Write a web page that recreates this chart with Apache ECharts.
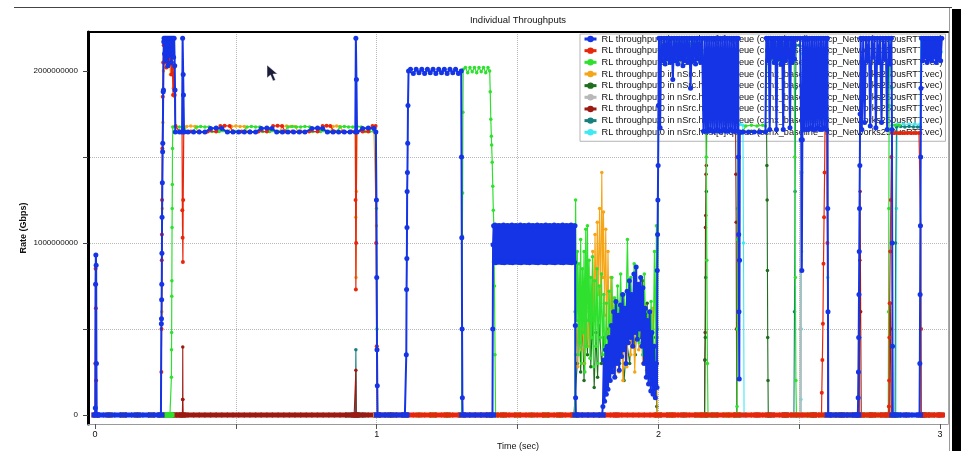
<!DOCTYPE html>
<html>
<head>
<meta charset="utf-8">
<title>Individual Throughputs</title>
<script src="https://cdn.jsdelivr.net/npm/echarts@6/dist/echarts.min.js"></script>
<style>
html, body { margin: 0; padding: 0; background: #fff; }
#chart { width: 961px; height: 451px; }
</style>
</head>
<body>
<div id="chart"></div>
<script>
// ---- Flow names (legend order) ----
const flowNames = [
  'RL throughput0 in nSrc.host[0].queue (ccnx_baseline_Tcp_Networks250usRTT.vec)',
  'RL throughput0 in nSrc.host[1].queue (ccnx_baseline_Tcp_Networks250usRTT.vec)',
  'RL throughput0 in nSrc.host[2].queue (ccnx_baseline_Tcp_Networks250usRTT.vec)',
  'RL throughput0 in nSrc.host[3].queue (ccnx_baseline_Tcp_Networks250usRTT.vec)',
  'RL throughput0 in nSrc.host[4].queue (ccnx_baseline_Tcp_Networks250usRTT.vec)',
  'RL throughput0 in nSrc.host[5].queue (ccnx_baseline_Tcp_Networks250usRTT.vec)',
  'RL throughput0 in nSrc.host[6].queue (ccnx_baseline_Tcp_Networks250usRTT.vec)',
  'RL throughput0 in nSrc.host[7].queue (ccnx_baseline_Tcp_Networks250usRTT.vec)',
  'RL throughput0 in nSrc.host[8].queue (ccnx_baseline_Tcp_Networks250usRTT.vec)'
];
const flowColors = ['#1434e6', '#e8260c', '#2fe02f', '#f5a516', '#1e6e1e', '#b8b8b8', '#9c1a12', '#17807f', '#3fe8f2'];

// ---- Axis tick values ----
const timeTicks = [0, 0.5, 1, 1.5, 2, 2.5, 3];
const timeLabels = [0, 1, 2, 3];
const rateTicks = [0, 0.5e9, 1e9, 1.5e9, 2e9];
const rateLabels = [0, 1e9, 2e9];

// ---- Samples: [time (s), rate (bit/s)] ----
// host[0]
const h0Start = [
  [0.000, 0], [0.001, 0.04e9], [0.002, 0.76e9], [0.003, 0.93e9], [0.004, 0.87e9], [0.005, 0.30e9], [0.006, 0],
  [0.02, 0], [0.04, 0], [0.06, 0], [0.08, 0], [0.10, 0], [0.12, 0], [0.14, 0], [0.16, 0], [0.18, 0], [0.20, 0], [0.22, 0], [0.234, 0],
  [0.2355, 0.53e9], [0.236, 0.56e9], [0.2365, 0.67e9], [0.237, 0.76e9], [0.2375, 0.94e9], [0.238, 1.15e9], [0.239, 1.35e9],
  [0.240, 1.53e9], [0.2405, 1.58e9], [0.242, 1.88e9], [0.243, 1.89e9], [0.244, 2.17e9], [0.245, 2.19e9],
  [0.247, 2.10e9], [0.249, 2.19e9], [0.251, 2.06e9], [0.253, 2.19e9], [0.255, 2.13e9], [0.257, 2.19e9], [0.259, 2.03e9],
  [0.261, 2.19e9], [0.263, 2.09e9], [0.265, 2.19e9], [0.267, 2.12e9], [0.269, 2.19e9], [0.271, 2.05e9], [0.273, 2.19e9],
  [0.275, 2.10e9], [0.277, 2.19e9], [0.279, 2.08e9], [0.281, 2.19e9], [0.283, 2.03e9], [0.284, 1.89e9], [0.285, 1.645e9]
];
const h0Share = [
  [0.30, 1.645e9], [0.309, 1.645e9], [0.311, 2.19e9], [0.313, 1.98e9], [0.314, 1.86e9], [0.316, 1.645e9],
  [0.33, 1.645e9], [0.35, 1.645e9], [0.37, 1.645e9], [0.39, 1.645e9], [0.41, 1.665e9], [0.43, 1.668e9], [0.45, 1.665e9],
  [0.47, 1.645e9], [0.49, 1.645e9], [0.51, 1.645e9], [0.53, 1.645e9], [0.55, 1.645e9], [0.57, 1.645e9], [0.59, 1.665e9],
  [0.61, 1.668e9], [0.628, 1.665e9], [0.645, 1.645e9], [0.665, 1.645e9], [0.685, 1.645e9], [0.705, 1.645e9], [0.725, 1.645e9],
  [0.745, 1.645e9], [0.77, 1.665e9], [0.79, 1.668e9], [0.808, 1.665e9], [0.825, 1.645e9], [0.845, 1.645e9], [0.865, 1.645e9],
  [0.885, 1.645e9], [0.905, 1.645e9], [0.924, 1.645e9], [0.926, 2.19e9], [0.928, 1.95e9], [0.930, 1.645e9], [0.95, 1.665e9],
  [0.97, 1.668e9], [0.99, 1.665e9], [0.997, 1.645e9],
  [0.999, 1.25e9], [1.000, 0.80e9], [1.001, 0.38e9], [1.002, 0.17e9], [1.003, 0],
  [1.02, 0], [1.04, 0], [1.06, 0], [1.08, 0], [1.10, 0], [1.104, 0]
];
const h0Solo = [
  [1.105, 0.35e9], [1.106, 0.73e9], [1.107, 0.91e9], [1.1075, 1.09e9], [1.108, 1.30e9], [1.109, 1.41e9], [1.110, 1.58e9],
  [1.111, 1.80e9], [1.113, 2.0e9],
  [1.12, 2.01e9], [1.13, 1.985e9], [1.14, 2.01e9], [1.15, 1.99e9], [1.16, 2.01e9], [1.17, 1.985e9], [1.18, 2.01e9],
  [1.19, 1.99e9], [1.20, 2.01e9], [1.21, 1.985e9], [1.22, 2.01e9], [1.23, 1.99e9], [1.24, 2.01e9], [1.25, 1.985e9],
  [1.26, 2.01e9], [1.27, 1.99e9], [1.28, 2.01e9], [1.29, 1.985e9], [1.30, 2.0e9],
  [1.301, 1.50e9], [1.302, 1.03e9], [1.303, 0.50e9], [1.304, 0.10e9], [1.305, 0],
  [1.32, 0], [1.34, 0], [1.36, 0], [1.38, 0], [1.40, 0], [1.411, 0], [1.412, 0.50e9], [1.413, 0.99e9]
];
const h0Band = [
  [1.4150, 1.100e9], [1.4175, 0.890e9], [1.4200, 1.105e9], [1.4225, 0.885e9], [1.4250, 1.095e9], [1.4275, 0.895e9],
  [1.4300, 1.100e9], [1.4325, 0.888e9], [1.4350, 1.102e9], [1.4375, 0.892e9], [1.4400, 1.098e9], [1.4425, 0.886e9],
  [1.4450, 1.100e9], [1.4475, 0.890e9], [1.4500, 1.105e9], [1.4525, 0.885e9], [1.4550, 1.095e9], [1.4575, 0.895e9],
  [1.4600, 1.100e9], [1.4625, 0.888e9], [1.4650, 1.102e9], [1.4675, 0.892e9], [1.4700, 1.098e9], [1.4725, 0.886e9],
  [1.4750, 1.100e9], [1.4775, 0.890e9], [1.4800, 1.105e9], [1.4825, 0.885e9], [1.4850, 1.095e9], [1.4875, 0.895e9],
  [1.4900, 1.100e9], [1.4925, 0.888e9], [1.4950, 1.102e9], [1.4975, 0.892e9], [1.5000, 1.098e9], [1.5025, 0.886e9],
  [1.5050, 1.100e9], [1.5075, 0.890e9], [1.5100, 1.105e9], [1.5125, 0.885e9], [1.5150, 1.095e9], [1.5175, 0.895e9],
  [1.5200, 1.100e9], [1.5225, 0.888e9], [1.5250, 1.102e9], [1.5275, 0.892e9], [1.5300, 1.098e9], [1.5325, 0.886e9],
  [1.5350, 1.100e9], [1.5375, 0.890e9], [1.5400, 1.105e9], [1.5425, 0.885e9], [1.5450, 1.095e9], [1.5475, 0.895e9],
  [1.5500, 1.100e9], [1.5525, 0.888e9], [1.5550, 1.102e9], [1.5575, 0.892e9], [1.5600, 1.098e9], [1.5625, 0.886e9],
  [1.5650, 1.100e9], [1.5675, 0.890e9], [1.5700, 1.105e9], [1.5725, 0.885e9], [1.5750, 1.095e9], [1.5775, 0.895e9],
  [1.5800, 1.100e9], [1.5825, 0.888e9], [1.5850, 1.102e9], [1.5875, 0.892e9], [1.5900, 1.098e9], [1.5925, 0.886e9],
  [1.5950, 1.100e9], [1.5975, 0.890e9], [1.6000, 1.105e9], [1.6025, 0.885e9], [1.6050, 1.095e9], [1.6075, 0.895e9],
  [1.6100, 1.100e9], [1.6125, 0.888e9], [1.6150, 1.102e9], [1.6175, 0.892e9], [1.6200, 1.098e9], [1.6225, 0.886e9],
  [1.6250, 1.100e9], [1.6275, 0.890e9], [1.6300, 1.105e9], [1.6325, 0.885e9], [1.6350, 1.095e9], [1.6375, 0.895e9],
  [1.6400, 1.100e9], [1.6425, 0.888e9], [1.6450, 1.102e9], [1.6475, 0.892e9], [1.6500, 1.098e9], [1.6525, 0.886e9],
  [1.6550, 1.100e9], [1.6575, 0.890e9], [1.6600, 1.105e9], [1.6625, 0.885e9], [1.6650, 1.095e9], [1.6675, 0.895e9],
  [1.6700, 1.100e9], [1.6725, 0.888e9], [1.6750, 1.102e9], [1.6775, 0.892e9], [1.6800, 1.098e9], [1.6825, 0.886e9],
  [1.6850, 1.100e9], [1.6875, 0.890e9], [1.6900, 1.105e9], [1.6925, 0.885e9], [1.6950, 1.095e9], [1.6975, 0.895e9],
  [1.7000, 1.100e9], [1.7025, 0.888e9], [1.704, 1.10e9],
  [1.705, 0.52e9], [1.706, 0.10e9], [1.707, 0],
  [1.72, 0], [1.74, 0], [1.76, 0], [1.78, 0], [1.80, 0]
];
const h0Congested = [
  [1.803, 0.05e9], [1.806, 0.32e9], [1.809, 0.08e9], [1.812, 0.38e9], [1.815, 0.12e9], [1.818, 0.40e9], [1.821, 0.15e9],
  [1.825, 0.45e9], [1.829, 0.20e9], [1.833, 0.52e9], [1.837, 0.25e9], [1.841, 0.60e9], [1.845, 0.22e9], [1.849, 0.66e9],
  [1.853, 0.30e9], [1.857, 0.58e9], [1.861, 0.26e9], [1.865, 0.64e9], [1.869, 0.34e9], [1.873, 0.70e9], [1.877, 0.38e9],
  [1.881, 0.62e9], [1.885, 0.30e9], [1.889, 0.72e9], [1.893, 0.42e9], [1.897, 0.78e9], [1.901, 0.45e9], [1.905, 0.70e9],
  [1.909, 0.40e9], [1.913, 0.82e9], [1.917, 0.48e9], [1.921, 0.86e9], [1.925, 0.44e9], [1.929, 0.76e9], [1.933, 0.50e9],
  [1.937, 0.80e9], [1.941, 0.40e9], [1.945, 0.74e9], [1.949, 0.30e9], [1.953, 0.62e9], [1.957, 0.22e9], [1.961, 0.55e9],
  [1.965, 0.18e9], [1.969, 0.60e9], [1.973, 0.14e9], [1.977, 0.48e9], [1.981, 0.12e9], [1.985, 0.40e9], [1.989, 0.10e9],
  [1.993, 0.30e9], [1.995, 0.16e9], [1.996, 0.84e9], [1.997, 1.05e9], [1.998, 1.25e9], [1.999, 1.45e9], [2.000, 1.80e9],
  [2.002, 2.19e9]
];
const h0Burst1 = [
  [2.006, 1.67e9], [2.010, 2.19e9], [2.015, 2.06e9], [2.020, 2.19e9], [2.024, 2.04e9], [2.029, 2.19e9], [2.033, 2.07e9],
  [2.038, 2.19e9], [2.042, 2.05e9], [2.047, 2.19e9], [2.051, 1.95e9], [2.056, 2.19e9], [2.060, 2.06e9], [2.065, 2.19e9],
  [2.069, 2.04e9], [2.074, 2.19e9], [2.078, 2.07e9], [2.083, 2.19e9], [2.087, 2.03e9], [2.092, 2.19e9], [2.096, 2.06e9],
  [2.101, 2.19e9], [2.105, 2.05e9], [2.110, 2.19e9], [2.114, 1.90e9], [2.119, 2.19e9], [2.123, 2.06e9], [2.128, 2.19e9],
  [2.132, 2.04e9], [2.137, 2.19e9], [2.141, 2.07e9], [2.146, 2.19e9], [2.150, 2.05e9], [2.155, 2.19e9],
  [2.160, 1.65e9], [2.164, 2.19e9], [2.168, 1.65e9], [2.172, 2.19e9], [2.176, 1.65e9], [2.180, 2.19e9], [2.184, 1.66e9],
  [2.188, 2.19e9], [2.192, 1.65e9], [2.196, 2.19e9], [2.200, 1.65e9], [2.204, 2.19e9], [2.208, 1.66e9], [2.212, 2.19e9],
  [2.216, 1.65e9], [2.220, 2.19e9], [2.224, 1.65e9], [2.228, 2.19e9], [2.232, 1.66e9], [2.236, 2.19e9], [2.240, 1.65e9],
  [2.244, 2.19e9], [2.248, 1.65e9], [2.252, 2.19e9], [2.256, 1.66e9], [2.260, 2.19e9], [2.264, 1.65e9], [2.268, 2.19e9],
  [2.272, 1.65e9], [2.276, 2.19e9], [2.280, 1.65e9], [2.283, 2.19e9],
  [2.284, 1.50e9], [2.285, 1.05e9], [2.286, 0.60e9], [2.287, 0.21e9], [2.288, 0.90e9], [2.289, 1.645e9],
  [2.30, 1.645e9], [2.32, 1.645e9], [2.34, 1.645e9], [2.36, 1.645e9], [2.38, 1.645e9]
];
const h0Burst2 = [
  [2.383, 2.19e9], [2.387, 2.06e9], [2.391, 2.19e9], [2.395, 1.66e9], [2.399, 2.19e9], [2.403, 2.08e9], [2.407, 2.19e9],
  [2.411, 2.05e9], [2.415, 2.19e9], [2.419, 1.66e9], [2.423, 2.19e9], [2.427, 2.07e9], [2.431, 2.19e9], [2.435, 2.04e9],
  [2.439, 2.19e9], [2.443, 1.66e9], [2.447, 2.19e9], [2.451, 2.06e9], [2.455, 2.19e9], [2.459, 2.08e9], [2.463, 2.19e9],
  [2.467, 1.67e9], [2.471, 2.19e9], [2.475, 2.05e9], [2.479, 2.19e9], [2.483, 2.07e9], [2.487, 2.19e9], [2.495, 2.19e9],
  [2.503, 2.19e9], [2.507, 1.60e9], [2.509, 0.84e9], [2.511, 1.60e9], [2.513, 2.19e9],
  [2.517, 1.66e9], [2.521, 2.19e9], [2.525, 1.66e9], [2.529, 2.19e9], [2.533, 1.66e9], [2.537, 2.19e9], [2.541, 1.67e9],
  [2.545, 2.19e9], [2.549, 1.66e9], [2.553, 2.19e9], [2.557, 1.66e9], [2.561, 2.19e9], [2.565, 1.67e9], [2.569, 2.19e9],
  [2.573, 1.66e9], [2.577, 2.19e9], [2.581, 1.66e9], [2.585, 2.19e9], [2.589, 1.67e9], [2.593, 2.19e9], [2.597, 1.66e9],
  [2.600, 2.19e9], [2.601, 1.20e9], [2.602, 0.60e9], [2.603, 0],
  [2.62, 0], [2.64, 0], [2.66, 0], [2.68, 0], [2.70, 0], [2.708, 0]
];
const h0Burst3 = [
  [2.709, 0.10e9], [2.710, 0.25e9], [2.711, 0.45e9], [2.712, 0.70e9], [2.713, 0.95e9], [2.714, 1.20e9], [2.715, 1.45e9],
  [2.716, 1.75e9], [2.718, 2.19e9],
  [2.722, 1.66e9], [2.727, 2.19e9], [2.732, 1.70e9], [2.737, 2.19e9], [2.742, 2.06e9], [2.747, 2.19e9], [2.752, 1.68e9],
  [2.757, 2.19e9], [2.762, 2.08e9], [2.767, 2.19e9], [2.772, 1.67e9], [2.777, 2.19e9], [2.782, 2.05e9], [2.787, 2.19e9],
  [2.792, 1.70e9], [2.797, 2.19e9], [2.802, 2.07e9], [2.807, 2.19e9], [2.812, 1.66e9], [2.817, 2.19e9], [2.822, 2.04e9],
  [2.827, 2.19e9], [2.829, 1.66e9], [2.830, 1.00e9], [2.831, 0.40e9], [2.832, 0],
  [2.85, 0], [2.87, 0], [2.89, 0], [2.91, 0], [2.927, 0],
  [2.928, 0.30e9], [2.929, 0.70e9], [2.930, 1.10e9], [2.931, 1.50e9], [2.932, 1.90e9], [2.934, 2.19e9],
  [2.938, 2.06e9], [2.942, 2.19e9], [2.946, 2.08e9], [2.950, 2.19e9], [2.954, 2.05e9], [2.958, 2.19e9], [2.962, 2.07e9],
  [2.966, 2.19e9], [2.970, 2.06e9], [2.974, 2.19e9], [2.978, 2.08e9], [2.982, 2.19e9], [2.986, 2.05e9], [2.990, 2.19e9],
  [2.994, 2.07e9], [2.998, 2.19e9], [3.002, 2.06e9], [3.006, 2.19e9]
];

// host[1]
const h1Start = [
  [0.000, 0], [0.001, 0.30e9], [0.002, 0.85e9], [0.003, 0.62e9], [0.004, 0.20e9], [0.005, 0],
  [0.05, 0], [0.10, 0], [0.15, 0], [0.20, 0], [0.234, 0],
  [0.2355, 0.25e9], [0.236, 0.50e9], [0.237, 0.90e9], [0.2375, 1.05e9], [0.238, 1.25e9], [0.239, 1.55e9], [0.2405, 1.85e9],
  [0.242, 2.05e9], [0.244, 2.15e9], [0.247, 2.05e9], [0.250, 2.16e9], [0.253, 2.02e9], [0.256, 2.12e9], [0.259, 2.08e9],
  [0.262, 2.16e9], [0.265, 2.04e9], [0.268, 2.12e9], [0.271, 1.98e9], [0.274, 2.08e9], [0.277, 1.86e9], [0.280, 2.02e9],
  [0.283, 1.86e9], [0.286, 1.68e9]
];
const h1Share = [
  [0.30, 1.648e9], [0.309, 1.648e9], [0.310, 1.19e9], [0.311, 1.03e9], [0.312, 0.89e9], [0.313, 1.25e9], [0.315, 1.648e9],
  [0.34, 1.648e9], [0.37, 1.648e9], [0.40, 1.648e9], [0.43, 1.648e9], [0.445, 1.68e9], [0.46, 1.682e9], [0.478, 1.68e9],
  [0.49, 1.648e9], [0.52, 1.648e9], [0.55, 1.648e9], [0.58, 1.648e9], [0.61, 1.648e9], [0.632, 1.68e9], [0.648, 1.682e9],
  [0.664, 1.68e9], [0.675, 1.648e9], [0.70, 1.648e9], [0.73, 1.648e9], [0.76, 1.648e9], [0.79, 1.648e9], [0.808, 1.68e9],
  [0.822, 1.682e9], [0.835, 1.68e9], [0.85, 1.648e9], [0.88, 1.648e9], [0.91, 1.648e9], [0.924, 1.648e9], [0.925, 1.25e9],
  [0.926, 0.73e9], [0.927, 1.00e9], [0.929, 1.648e9], [0.95, 1.648e9], [0.97, 1.648e9], [0.985, 1.68e9], [0.996, 1.68e9],
  [0.998, 1.00e9], [1.000, 0.40e9], [1.002, 0]
];
const h1Idle1 = [
  [1.02, 0], [1.04, 0], [1.06, 0], [1.08, 0], [1.10, 0], [1.12, 0], [1.14, 0], [1.16, 0], [1.18, 0], [1.20, 0],
  [1.22, 0], [1.24, 0], [1.26, 0], [1.28, 0], [1.30, 0], [1.32, 0], [1.34, 0], [1.36, 0], [1.38, 0], [1.40, 0],
  [1.42, 0], [1.44, 0], [1.46, 0], [1.48, 0], [1.50, 0], [1.52, 0], [1.54, 0], [1.56, 0], [1.58, 0], [1.60, 0],
  [1.62, 0], [1.64, 0], [1.66, 0], [1.68, 0], [1.70, 0], [1.72, 0], [1.74, 0], [1.76, 0], [1.78, 0], [1.80, 0],
  [1.82, 0], [1.84, 0], [1.86, 0], [1.88, 0], [1.90, 0], [1.92, 0], [1.94, 0], [1.96, 0], [1.98, 0], [2.00, 0],
  [2.02, 0], [2.04, 0], [2.06, 0], [2.08, 0], [2.10, 0], [2.12, 0], [2.14, 0], [2.16, 0], [2.18, 0], [2.20, 0],
  [2.22, 0], [2.24, 0], [2.26, 0], [2.28, 0], [2.30, 0], [2.32, 0], [2.34, 0], [2.36, 0], [2.38, 0], [2.40, 0],
  [2.42, 0], [2.44, 0], [2.46, 0], [2.48, 0], [2.50, 0], [2.52, 0], [2.54, 0], [2.56, 0], [2.579, 0]
];
const h1Late = [
  [2.580, 0.13e9], [2.582, 0.32e9], [2.584, 0.53e9], [2.586, 0.88e9], [2.588, 1.15e9], [2.590, 1.41e9], [2.592, 1.80e9],
  [2.594, 2.10e9], [2.597, 1.90e9], [2.600, 1.00e9], [2.602, 0],
  [2.62, 0], [2.64, 0], [2.66, 0], [2.68, 0], [2.70, 0], [2.72, 0], [2.74, 0], [2.76, 0], [2.78, 0], [2.80, 0], [2.816, 0],
  [2.818, 0.05e9], [2.819, 0.20e9], [2.820, 0.45e9], [2.821, 0.65e9], [2.823, 0.95e9], [2.825, 1.25e9], [2.827, 1.50e9],
  [2.829, 1.64e9], [2.835, 1.64e9], [2.845, 1.64e9], [2.855, 1.64e9], [2.865, 1.64e9], [2.875, 1.64e9], [2.885, 1.64e9],
  [2.895, 1.64e9], [2.905, 1.64e9], [2.915, 1.64e9], [2.925, 1.64e9], [2.930, 1.64e9],
  [2.931, 1.10e9], [2.932, 0.50e9], [2.933, 0],
  [2.95, 0], [2.97, 0], [2.99, 0], [3.005, 0]
];

// host[2]
const h2Start = [
  [0.05, 0], [0.10, 0], [0.15, 0], [0.20, 0], [0.234, 0], [0.238, 0], [0.242, 0], [0.246, 0], [0.250, 0], [0.254, 0],
  [0.258, 0], [0.262, 0], [0.266, 0], [0.270, 0],
  [0.2712, 0.22e9], [0.2716, 0.38e9], [0.272, 0.48e9], [0.2724, 0.69e9], [0.2728, 0.78e9], [0.2735, 1.09e9], [0.274, 1.20e9],
  [0.2745, 1.34e9], [0.275, 1.55e9], [0.276, 1.675e9]
];
const h2Share = [
  [0.285, 1.675e9], [0.30, 1.675e9], [0.315, 1.675e9], [0.325, 1.648e9], [0.345, 1.648e9], [0.362, 1.675e9], [0.375, 1.678e9],
  [0.39, 1.675e9], [0.405, 1.675e9], [0.415, 1.648e9], [0.44, 1.648e9], [0.47, 1.648e9], [0.50, 1.648e9], [0.525, 1.648e9],
  [0.54, 1.675e9], [0.555, 1.678e9], [0.57, 1.675e9], [0.585, 1.675e9], [0.595, 1.648e9], [0.62, 1.648e9], [0.65, 1.648e9],
  [0.672, 1.648e9], [0.685, 1.675e9], [0.70, 1.678e9], [0.715, 1.675e9], [0.73, 1.675e9], [0.745, 1.678e9], [0.762, 1.675e9],
  [0.772, 1.648e9], [0.80, 1.648e9], [0.83, 1.648e9], [0.858, 1.648e9], [0.87, 1.675e9], [0.885, 1.678e9], [0.90, 1.675e9],
  [0.915, 1.675e9], [0.93, 1.678e9], [0.945, 1.675e9], [0.955, 1.648e9], [0.975, 1.648e9], [0.995, 1.648e9],
  [0.999, 1.20e9], [1.001, 0.50e9], [1.003, 0]
];
const h2Mid = [
  [1.05, 0], [1.10, 0], [1.15, 0], [1.20, 0], [1.25, 0], [1.301, 0],
  [1.303, 0.50e9], [1.304, 1.04e9], [1.305, 1.29e9], [1.306, 1.76e9], [1.307, 2.01e9],
  [1.315, 2.02e9], [1.323, 1.99e9], [1.331, 2.02e9], [1.339, 1.995e9], [1.347, 2.02e9], [1.355, 1.99e9], [1.363, 2.02e9],
  [1.371, 1.995e9], [1.379, 2.02e9], [1.387, 1.99e9], [1.395, 2.02e9], [1.401, 2.0e9],
  [1.403, 1.88e9], [1.405, 1.72e9], [1.407, 1.62e9], [1.408, 1.57e9], [1.410, 1.47e9], [1.412, 1.33e9], [1.414, 1.19e9],
  [1.416, 1.09e9], [1.418, 0.75e9], [1.420, 0.35e9], [1.422, 0],
  [1.45, 0], [1.50, 0], [1.55, 0], [1.60, 0], [1.65, 0], [1.703, 0]
];
const h2Congested = [
  [1.704, 0.60e9], [1.706, 1.25e9], [1.709, 0.55e9], [1.712, 0.95e9], [1.715, 0.35e9], [1.718, 0.88e9], [1.721, 0.42e9],
  [1.724, 1.02e9], [1.727, 0.30e9], [1.730, 0.85e9], [1.733, 0.48e9], [1.736, 0.95e9], [1.739, 0.25e9], [1.742, 1.08e9],
  [1.745, 0.40e9], [1.748, 1.10e9], [1.751, 0.55e9], [1.754, 0.90e9], [1.757, 0.33e9], [1.760, 0.80e9], [1.763, 0.45e9],
  [1.766, 0.92e9], [1.770, 0.28e9], [1.774, 0.78e9], [1.778, 0.40e9], [1.782, 0.85e9], [1.786, 0.30e9], [1.790, 0.75e9],
  [1.794, 0.45e9], [1.798, 0.82e9], [1.802, 0.35e9], [1.806, 0.70e9], [1.810, 0.25e9], [1.815, 0.65e9], [1.820, 0.20e9],
  [1.825, 0.72e9], [1.830, 0.35e9], [1.835, 0.80e9], [1.840, 0.42e9], [1.845, 0.68e9], [1.850, 0.30e9], [1.855, 0.75e9],
  [1.860, 0.48e9], [1.866, 0.82e9], [1.872, 0.40e9], [1.878, 0.70e9], [1.884, 0.52e9], [1.890, 1.02e9], [1.896, 0.45e9],
  [1.902, 0.80e9], [1.908, 0.55e9], [1.914, 0.88e9], [1.920, 0.50e9], [1.926, 0.75e9], [1.932, 0.42e9], [1.938, 0.70e9],
  [1.944, 0.35e9], [1.950, 0.82e9], [1.956, 0.40e9], [1.962, 0.60e9], [1.968, 0.28e9], [1.974, 0.66e9], [1.980, 0.22e9],
  [1.986, 0.95e9], [1.990, 0.30e9], [1.993, 1.10e9], [1.995, 0.45e9], [1.997, 0.50e9], [1.999, 1.25e9], [2.001, 1.70e9],
  [2.003, 2.12e9]
];
const h2Late = [
  [2.008, 2.17e9], [2.014, 2.07e9], [2.020, 2.16e9], [2.026, 2.06e9], [2.032, 2.17e9], [2.038, 2.08e9], [2.044, 2.16e9],
  [2.050, 2.06e9], [2.056, 2.17e9], [2.062, 2.07e9], [2.068, 2.16e9], [2.074, 2.06e9], [2.080, 2.17e9], [2.086, 2.08e9],
  [2.092, 2.16e9], [2.098, 2.06e9], [2.104, 2.17e9], [2.110, 2.07e9], [2.116, 2.16e9], [2.122, 2.06e9], [2.128, 2.17e9],
  [2.134, 2.08e9], [2.140, 2.16e9], [2.146, 2.06e9], [2.152, 2.17e9], [2.158, 2.07e9], [2.165, 2.12e9],
  [2.170, 1.50e9], [2.172, 0.90e9], [2.174, 0.30e9], [2.176, 0],
  [2.20, 0], [2.24, 0], [2.278, 0], [2.279, 0.05e9], [2.280, 0.50e9], [2.281, 1.02e9], [2.283, 1.648e9],
  [2.30, 1.648e9], [2.31, 1.68e9], [2.33, 1.685e9], [2.35, 1.68e9], [2.37, 1.685e9], [2.38, 1.68e9],
  [2.386, 2.12e9], [2.392, 2.08e9], [2.398, 2.16e9], [2.404, 2.07e9], [2.410, 2.15e9], [2.416, 2.09e9], [2.422, 2.16e9],
  [2.428, 2.06e9], [2.434, 2.15e9], [2.440, 2.08e9], [2.446, 2.16e9], [2.452, 2.07e9], [2.458, 2.15e9], [2.464, 2.09e9],
  [2.470, 2.16e9], [2.476, 2.07e9], [2.482, 2.12e9],
  [2.484, 1.50e9], [2.486, 0.80e9], [2.488, 0.20e9], [2.490, 0],
  [2.53, 0], [2.58, 0], [2.63, 0], [2.68, 0], [2.73, 0], [2.78, 0], [2.816, 0],
  [2.817, 0.60e9], [2.818, 1.20e9], [2.819, 1.80e9], [2.821, 2.19e9], [2.825, 2.19e9], [2.828, 1.90e9], [2.830, 1.685e9],
  [2.84, 1.685e9], [2.855, 1.685e9]
];

// host[3]
const h3Start = [
  [0.05, 0], [0.10, 0], [0.15, 0], [0.20, 0], [0.234, 0],
  [0.237, 0.60e9], [0.239, 1.20e9], [0.241, 1.70e9], [0.243, 2.00e9],
  [0.250, 2.08e9], [0.256, 2.02e9], [0.262, 2.10e9], [0.268, 1.98e9], [0.274, 2.05e9], [0.278, 1.90e9], [0.282, 1.85e9],
  [0.286, 1.678e9]
];
const h3Share = [
  [0.30, 1.648e9], [0.318, 1.648e9], [0.325, 1.678e9], [0.34, 1.68e9], [0.355, 1.678e9], [0.365, 1.648e9], [0.40, 1.648e9],
  [0.44, 1.648e9], [0.475, 1.648e9], [0.485, 1.678e9], [0.50, 1.68e9], [0.515, 1.678e9], [0.53, 1.678e9], [0.54, 1.648e9],
  [0.58, 1.648e9], [0.62, 1.648e9], [0.655, 1.648e9], [0.665, 1.678e9], [0.68, 1.68e9], [0.695, 1.678e9], [0.71, 1.678e9],
  [0.72, 1.648e9], [0.76, 1.648e9], [0.80, 1.648e9], [0.835, 1.648e9], [0.845, 1.678e9], [0.858, 1.68e9], [0.87, 1.678e9],
  [0.88, 1.648e9], [0.91, 1.648e9], [0.924, 1.648e9], [0.9255, 1.15e9], [0.9265, 0.80e9], [0.928, 1.30e9], [0.930, 1.648e9],
  [0.96, 1.648e9], [0.99, 1.648e9], [0.999, 1.10e9], [1.001, 0.40e9], [1.003, 0],
  [1.10, 0], [1.20, 0], [1.30, 0], [1.40, 0], [1.50, 0], [1.60, 0], [1.703, 0]
];
const h3Congested = [
  [1.706, 0.35e9], [1.710, 0.52e9], [1.714, 0.28e9], [1.720, 0.60e9], [1.726, 0.38e9], [1.732, 0.55e9], [1.738, 0.30e9],
  [1.744, 0.62e9], [1.750, 0.40e9], [1.756, 0.70e9], [1.762, 0.45e9], [1.767, 0.95e9], [1.771, 0.55e9], [1.775, 1.05e9],
  [1.779, 0.60e9], [1.783, 1.12e9], [1.787, 0.70e9], [1.791, 1.20e9], [1.795, 0.65e9], [1.799, 1.41e9], [1.802, 0.80e9],
  [1.805, 1.18e9], [1.809, 0.58e9], [1.813, 1.08e9], [1.817, 0.48e9], [1.821, 0.95e9], [1.826, 0.40e9], [1.831, 0.80e9],
  [1.836, 0.30e9], [1.842, 0.68e9], [1.848, 0.22e9], [1.854, 0.55e9], [1.860, 0.25e9], [1.867, 0.60e9], [1.874, 0.20e9],
  [1.881, 0.50e9], [1.888, 0.28e9], [1.895, 0.62e9], [1.902, 0.35e9], [1.909, 0.58e9], [1.916, 0.25e9], [1.923, 0.66e9],
  [1.930, 0.38e9], [1.937, 0.55e9], [1.944, 0.30e9], [1.951, 0.64e9], [1.958, 0.26e9], [1.965, 0.58e9], [1.972, 0.34e9],
  [1.979, 0.62e9], [1.986, 0.28e9], [1.992, 0.50e9], [1.996, 0],
  [2.05, 0], [2.15, 0], [2.25, 0]
];

// host[4]
const h4Samples = [
  [1.700, 0], [1.712, 0.30e9], [1.718, 0.62e9], [1.724, 0.25e9], [1.730, 0.55e9], [1.736, 0.20e9], [1.742, 0.60e9],
  [1.748, 0.35e9], [1.754, 0.70e9], [1.760, 0.28e9], [1.766, 0.58e9], [1.772, 0.16e9], [1.778, 0.48e9], [1.784, 0.22e9],
  [1.790, 0.52e9], [1.798, 0.30e9], [1.806, 0.45e9], [1.814, 0.25e9], [1.822, 0.50e9], [1.830, 0.32e9], [1.838, 0.62e9],
  [1.846, 0.40e9], [1.854, 0.55e9], [1.862, 0.30e9], [1.870, 0.48e9], [1.878, 0.20e9], [1.888, 0.42e9], [1.898, 0.30e9],
  [1.908, 0.58e9], [1.918, 0.35e9], [1.928, 0.70e9], [1.936, 0.45e9], [1.944, 0.78e9], [1.952, 0.40e9], [1.960, 0.65e9],
  [1.968, 0.30e9], [1.976, 0.55e9], [1.984, 0.20e9], [1.990, 0.45e9], [1.994, 0.05e9], [1.996, 0],
  [2.04, 0], [2.09, 0], [2.14, 0], [2.164, 0],
  [2.165, 0.32e9], [2.1665, 0.45e9], [2.168, 0.80e9], [2.170, 1.30e9], [2.172, 1.80e9], [2.174, 2.10e9], [2.18, 2.10e9],
  [2.22, 2.12e9], [2.26, 2.10e9], [2.279, 2.08e9], [2.282, 1.65e9], [2.30, 1.65e9], [2.33, 1.65e9], [2.36, 1.65e9],
  [2.384, 1.65e9], [2.385, 1.45e9], [2.386, 1.25e9], [2.387, 0.84e9], [2.388, 0.45e9], [2.389, 0.20e9], [2.390, 0],
  [2.45, 0], [2.55, 0], [2.65, 0], [2.75, 0], [2.85, 0], [2.95, 0]
];

// host[5]
const h5Samples = [
  [1.00, 0], [1.20, 0], [1.40, 0], [1.60, 0], [1.80, 0], [2.00, 0], [2.20, 0], [2.40, 0], [2.502, 0],
  [2.503, 0.50e9], [2.504, 1.00e9], [2.505, 1.41e9], [2.506, 0.90e9], [2.507, 0], [2.60, 0], [2.80, 0], [3.00, 0]
];

// host[6]
const h6Samples = [
  [0.272, 0], [0.28, 0], [0.29, 0], [0.30, 0], [0.31, 0], [0.311, 0.09e9], [0.3115, 0.395e9], [0.312, 0.09e9], [0.313, 0],
  [0.32, 0], [0.34, 0], [0.36, 0], [0.38, 0], [0.40, 0], [0.42, 0], [0.44, 0], [0.46, 0], [0.48, 0], [0.50, 0],
  [0.52, 0], [0.54, 0], [0.56, 0], [0.58, 0], [0.60, 0], [0.62, 0], [0.64, 0], [0.66, 0], [0.68, 0], [0.70, 0],
  [0.72, 0], [0.74, 0], [0.76, 0], [0.78, 0], [0.80, 0], [0.82, 0], [0.84, 0], [0.86, 0], [0.88, 0], [0.90, 0],
  [0.92, 0], [0.925, 0], [0.926, 0.26e9], [0.927, 0], [0.94, 0], [0.96, 0], [0.98, 0], [1.00, 0],
  [1.05, 0], [1.25, 0], [1.45, 0], [1.65, 0], [1.85, 0], [2.05, 0], [2.164, 0],
  [2.165, 0.32e9], [2.166, 0.48e9], [2.167, 1.09e9], [2.168, 1.16e9], [2.169, 1.40e9], [2.170, 1.45e9], [2.172, 2.00e9],
  [2.20, 2.05e9], [2.24, 2.00e9], [2.272, 2.05e9], [2.274, 1.70e9], [2.275, 1.40e9], [2.276, 1.12e9], [2.277, 0.50e9],
  [2.278, 0], [2.35, 0], [2.45, 0], [2.55, 0], [2.65, 0], [2.713, 0],
  [2.714, 0.45e9], [2.715, 0.90e9], [2.716, 1.30e9], [2.718, 0.60e9], [2.720, 0],
  [2.76, 0], [2.80, 0], [2.821, 0], [2.822, 0.40e9], [2.823, 0.65e9], [2.825, 0.50e9], [2.827, 0],
  [2.88, 0], [2.94, 0], [3.00, 0]
];

// host[7]
const h7Samples = [
  [0.90, 0], [0.924, 0], [0.926, 0.38e9], [0.928, 0], [0.95, 0], [1.00, 0], [1.20, 0], [1.40, 0], [1.60, 0], [1.80, 0],
  [2.00, 0], [2.20, 0], [2.40, 0], [2.481, 0], [2.483, 0.60e9], [2.485, 1.30e9], [2.487, 1.90e9], [2.489, 2.15e9],
  [2.50, 2.15e9], [2.55, 2.12e9], [2.597, 2.10e9], [2.600, 1.20e9], [2.602, 0], [2.70, 0], [2.80, 0], [2.840, 0],
  [2.842, 1.00e9], [2.845, 1.675e9], [2.86, 1.678e9], [2.875, 1.675e9], [2.89, 1.678e9], [2.905, 1.675e9], [2.92, 1.675e9],
  [2.930, 1.675e9], [2.931, 1.10e9], [2.932, 0.50e9], [2.933, 0], [2.97, 0], [3.00, 0]
];

// host[8]
const h8Samples = [
  [2.20, 0], [2.279, 0], [2.281, 1.20e9], [2.283, 1.685e9], [2.29, 1.69e9], [2.30, 1.685e9], [2.302, 1.00e9], [2.304, 0],
  [2.40, 0], [2.505, 0], [2.506, 0.09e9], [2.507, 0.50e9], [2.508, 0.95e9], [2.509, 1.41e9], [2.511, 2.10e9], [2.55, 2.12e9],
  [2.598, 2.10e9], [2.601, 0.80e9], [2.603, 0], [2.70, 0], [2.80, 0], [2.843, 0], [2.845, 1.20e9], [2.848, 1.69e9],
  [2.87, 1.692e9], [2.89, 1.69e9], [2.91, 1.692e9], [2.929, 1.69e9], [2.931, 2.19e9], [2.940, 2.10e9], [2.948, 2.19e9],
  [2.956, 2.12e9], [2.964, 2.19e9], [2.972, 2.10e9], [2.980, 2.19e9], [2.988, 2.12e9], [2.996, 2.19e9], [3.004, 2.11e9]
];

const flowSamples = [
  [].concat(h0Start, h0Share, h0Solo, h0Band, h0Congested, h0Burst1, h0Burst2, h0Burst3),
  [].concat(h1Start, h1Share, h1Idle1, h1Late),
  [].concat(h2Start, h2Share, h2Mid, h2Congested, h2Late),
  [].concat(h3Start, h3Share, h3Congested),
  h4Samples,
  h5Samples,
  h6Samples,
  h7Samples,
  h8Samples
];

// Marker / line sizes per flow, and drawing order (last drawn on top)
const markerSize = [5, 4, 3.5, 3.5, 3.5, 3.5, 3.5, 3.5, 3.5];
const lineWidth = [2, 1.2, 1.2, 1.1, 1.1, 1.1, 1.1, 1.1, 1.1];
const drawOrder = [8, 7, 6, 5, 4, 3, 2, 1, 0];

const FONT = '"Liberation Sans", Arial, Helvetica, sans-serif';
const X_MIN = -0.0249, X_MAX = 3.028;
const Y_MIN = -0.0523e9, Y_MAX = 2.2267e9;

// Idle samples are drawn as short bars so the zero line reads as a solid strip.
const series = drawOrder.map((idx, k) => ({
  type: 'line',
  name: flowNames[idx],
  data: flowSamples[idx],
  z: 2 + k,
  symbol: (val) => (val[1] === 0 ? 'rect' : 'circle'),
  symbolSize: (val) => (val[1] === 0 ? [7, 5] : markerSize[idx]),
  showSymbol: true,
  lineStyle: { color: flowColors[idx], width: lineWidth[idx] },
  itemStyle: { color: flowColors[idx] },
  emphasis: { disabled: true },
  animation: false,
  clip: true
}));

const chart = echarts.init(document.getElementById('chart'), null, { renderer: 'canvas' });

chart.setOption({
  animation: false,
  backgroundColor: '#ffffff',
  textStyle: { fontFamily: FONT },
  grid: { left: 88, right: 13, top: 32, bottom: 27, containLabel: false, outerBoundsMode: 'none' },
  legend: {
    data: flowNames,
    orient: 'vertical',
    left: 580,
    top: 34,
    z: 1,
    padding: [0, 3, 4, 3],
    itemGap: 1.66,
    itemWidth: 12,
    itemHeight: 8,
    backgroundColor: '#ffffff',
    borderColor: '#b4b4b4',
    borderWidth: 1,
    selectedMode: false,
    lineStyle: { width: 3 },
    textStyle: { fontSize: 9.2, color: '#111', fontFamily: FONT, lineHeight: 10 }
  },
  xAxis: [
    {
      type: 'value', min: X_MIN, max: X_MAX, position: 'bottom',
      name: 'Time (sec)', nameLocation: 'middle', nameGap: 18, nameMoveOverlap: false,
      nameTextStyle: { fontSize: 9, color: '#111', fontFamily: FONT },
      axisLine: { show: true, onZero: false, lineStyle: { color: '#9a9a9a', width: 1 } },
      axisTick: { show: true, length: 5, customValues: timeTicks, lineStyle: { color: '#555' } },
      axisLabel: { customValues: timeLabels, margin: 6, fontSize: 9, color: '#111', fontFamily: FONT },
      splitLine: { show: true, showMinLine: false, showMaxLine: false, lineStyle: { type: 'dotted', color: '#b8b8b8', width: 1 } }
    },
    {
      type: 'value', min: X_MIN, max: X_MAX, position: 'top',
      axisLine: { show: true, onZero: false, lineStyle: { color: '#000', width: 2 } },
      axisTick: { show: false }, axisLabel: { show: false }, splitLine: { show: false }
    }
  ],
  yAxis: [
    {
      type: 'value', min: Y_MIN, max: Y_MAX, position: 'left',
      name: 'Rate (Gbps)', nameLocation: 'middle', nameGap: 60, nameMoveOverlap: false,
      nameTextStyle: { fontSize: 9, fontWeight: 'bold', color: '#111', fontFamily: FONT },
      axisLine: { show: true, onZero: false, lineStyle: { color: '#000', width: 3 } },
      axisTick: { show: true, length: 5, customValues: rateTicks, lineStyle: { color: '#444' } },
      axisLabel: { customValues: rateLabels, margin: 10, fontSize: 8, color: '#111', fontFamily: FONT, formatter: (v) => String(v) },
      splitLine: { show: true, showMinLine: false, showMaxLine: false, lineStyle: { type: 'dotted', color: '#b8b8b8', width: 1 } }
    },
    {
      type: 'value', min: Y_MIN, max: Y_MAX, position: 'right',
      axisLine: { show: true, onZero: false, lineStyle: { color: '#a8a8a8', width: 1 } },
      axisTick: { show: false }, axisLabel: { show: false }, splitLine: { show: false }
    }
  ],
  graphic: [
    { type: 'line', shape: { x1: 14, y1: 7.5, x2: 952, y2: 7.5 }, style: { stroke: '#444', lineWidth: 1 }, silent: true },
    { type: 'line', shape: { x1: 949.5, y1: 8, x2: 949.5, y2: 451 }, style: { stroke: '#9a9a9a', lineWidth: 1 }, silent: true },
    { type: 'rect', shape: { x: 952, y: 9, width: 9, height: 442 }, style: { fill: '#000' }, silent: true },
    {
      type: 'text', x: 518, y: 20, silent: true,
      style: { text: 'Individual Throughputs', fill: '#111', font: '9.5px ' + FONT, textAlign: 'center', textVerticalAlign: 'middle' }
    },
    {
      type: 'polygon', silent: true, z: 100,
      shape: { points: [[267, 65], [267, 78], [270.5, 75], [273, 81], [275.5, 80], [273, 74], [277.5, 74]] },
      style: { fill: '#1b1b3a', stroke: '#ffffff', lineWidth: 0.5 }
    }
  ],
  series: series
});
</script>
</body>
</html>
